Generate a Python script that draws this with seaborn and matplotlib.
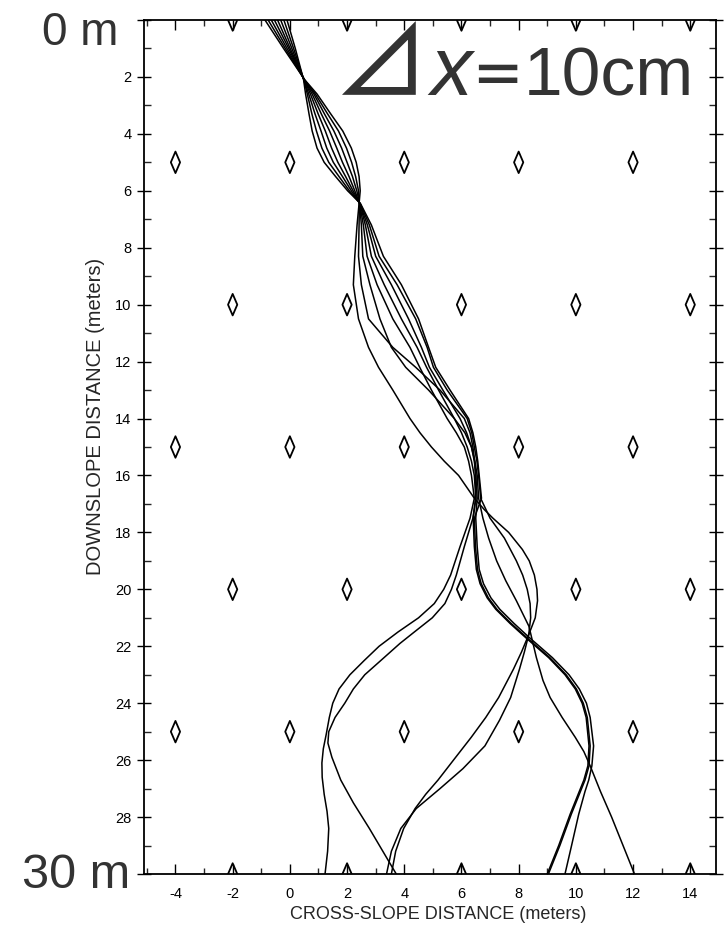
import matplotlib
matplotlib.use("Agg")
import matplotlib.pyplot as plt
import numpy as np
import pandas as pd
import seaborn as sns
from matplotlib.path import Path
from matplotlib.ticker import MultipleLocator, FixedLocator

# ---------------- data (metres) ----------------
# shared downslope stations for the upper part of all eight trajectories
Y_UPPER = [0.0, 1.0, 2.1, 2.6, 3.3, 3.9, 4.5, 5.0, 5.5, 6.0, 6.45, 7.2, 8.3, 9.3,
           10.5, 11.5, 12.2, 13.0, 14.0, 14.5, 15.0, 15.5, 16.0, 16.8]
X_UPPER_1 = [-0.87, -0.22, 0.52, 0.95, 1.43, 1.85, 2.15, 2.32, 2.42, 2.46, 2.42, 2.35, 2.27, 2.22,
             2.40, 2.75, 3.10, 3.60, 4.20, 4.55, 4.95, 5.40, 5.90, 6.45]
X_UPPER_2 = [-0.76, -0.16, 0.51, 0.89, 1.32, 1.70, 1.98, 2.16, 2.30, 2.40, 2.43, 2.42, 2.40, 2.50,
             2.75, 3.60, 4.40, 5.25, 6.10, 6.30, 6.40, 6.46, 6.50, 6.50]
X_UPPER_3 = [-0.65, -0.10, 0.51, 0.84, 1.21, 1.54, 1.81, 2.00, 2.19, 2.34, 2.44, 2.50, 2.55, 2.80,
             3.15, 3.55, 4.05, 4.85, 5.75, 6.12, 6.35, 6.45, 6.50, 6.55]
X_UPPER_4 = [-0.54, -0.04, 0.50, 0.78, 1.10, 1.39, 1.64, 1.84, 2.07, 2.27, 2.44, 2.57, 2.70, 3.05,
             3.60, 4.20, 4.54, 4.95, 5.50, 5.82, 6.10, 6.25, 6.35, 6.45]
X_UPPER_5 = [-0.43, 0.01, 0.50, 0.72, 0.99, 1.24, 1.46, 1.68, 1.95, 2.21, 2.45, 2.64, 2.85, 3.30,
             3.90, 4.45, 4.78, 5.20, 5.75, 6.00, 6.20, 6.35, 6.45, 6.50]
X_UPPER_6 = [-0.32, 0.07, 0.49, 0.66, 0.88, 1.09, 1.29, 1.52, 1.84, 2.15, 2.45, 2.71, 3.00, 3.55,
             4.15, 4.60, 4.88, 5.35, 5.95, 6.18, 6.35, 6.47, 6.55, 6.60]
X_UPPER_7 = [-0.21, 0.13, 0.49, 0.61, 0.77, 0.93, 1.12, 1.36, 1.72, 2.08, 2.46, 2.78, 3.12, 3.75,
             4.40, 4.80, 5.02, 5.50, 6.20, 6.36, 6.45, 6.54, 6.60, 6.67]
X_UPPER_8 = [-0.10, 0.19, 0.48, 0.55, 0.67, 0.78, 0.95, 1.20, 1.60, 2.02, 2.47, 2.85, 3.27, 3.90,
             4.50, 4.85, 5.10, 5.60, 6.25, 6.40, 6.50, 6.57, 6.62, 6.70]

# lower part of each trajectory (own stations)
Y_LOWER_1 = [17.2, 17.5, 18.0, 18.6, 19.0, 19.5, 20.0, 20.4, 21.0, 21.6, 22.2, 22.8, 23.8, 24.5,
             25.2, 26.0, 26.7, 27.2, 27.7, 28.4, 29.2, 30.0]
X_LOWER_1 = [6.80, 7.10, 7.65, 8.13, 8.37, 8.55, 8.64, 8.66, 8.58, 8.35, 8.10, 7.82, 7.30, 6.85,
             6.34, 5.72, 5.18, 4.75, 4.38, 3.98, 3.70, 3.55]

Y_LOWER_2 = [17.5, 18.5, 19.3, 19.8, 20.3, 20.7, 21.2, 21.7, 22.4, 23.0, 23.5, 24.0, 24.5, 25.5,
             26.2, 26.7, 27.1, 27.9, 29.0, 30.0]
X_LOWER_2 = [6.41, 6.45, 6.52, 6.65, 6.90, 7.20, 7.70, 8.25, 9.05, 9.62, 9.98, 10.22, 10.36, 10.46,
             10.42, 10.28, 10.12, 9.80, 9.40, 9.00]

Y_LOWER_3 = [17.5, 18.5, 19.3, 19.8, 20.3, 20.7, 21.2, 21.7, 22.4, 23.0, 23.5, 24.0, 24.5, 25.5,
             26.2, 26.7, 27.1, 27.9, 29.0, 30.0]
X_LOWER_3 = [6.50, 6.55, 6.62, 6.77, 7.03, 7.34, 7.84, 8.38, 9.18, 9.76, 10.12, 10.37, 10.50, 10.62,
             10.56, 10.45, 10.32, 10.10, 9.85, 9.62]

Y_LOWER_4 = [17.5, 18.5, 19.5, 20.0, 20.5, 21.0, 21.5, 22.0, 22.5, 23.0, 23.5, 24.0, 24.5, 25.1,
             25.6, 26.1, 26.6, 27.2, 27.8, 28.4, 29.2, 30.0]
X_LOWER_4 = [6.30, 5.95, 5.62, 5.38, 5.05, 4.50, 3.78, 3.12, 2.60, 2.10, 1.72, 1.50, 1.38, 1.27,
             1.17, 1.12, 1.13, 1.20, 1.30, 1.36, 1.32, 1.23]

Y_LOWER_5 = [17.5, 18.5, 19.5, 20.0, 20.5, 21.0, 21.5, 21.9, 22.5, 23.0, 23.5, 24.0, 24.5, 25.0,
             25.4, 25.9, 26.7, 27.5, 28.4, 29.2, 30.0]
X_LOWER_5 = [6.40, 6.10, 5.82, 5.65, 5.42, 4.98, 4.35, 3.85, 3.18, 2.62, 2.22, 1.92, 1.58, 1.36,
             1.33, 1.47, 1.78, 2.22, 2.78, 3.25, 3.72]

Y_LOWER_6 = [17.5, 18.2, 19.0, 19.7, 20.4, 21.3, 22.4, 23.2, 23.8, 24.5, 25.2, 25.7, 26.2, 27.1,
             28.0, 29.0, 30.0]
X_LOWER_6 = [6.75, 6.95, 7.23, 7.55, 7.92, 8.36, 8.62, 8.85, 9.10, 9.52, 9.98, 10.28, 10.50, 10.86,
             11.25, 11.65, 12.05]

Y_LOWER_7 = [17.5, 18.2, 19.0, 19.5, 20.0, 20.5, 21.0, 21.6, 22.2, 22.8, 23.8, 24.6, 25.5, 26.3,
             27.0, 27.7, 28.4, 29.2, 30.0]
X_LOWER_7 = [7.00, 7.50, 7.92, 8.14, 8.30, 8.40, 8.42, 8.35, 8.20, 8.03, 7.72, 7.33, 6.82, 6.05,
             5.25, 4.42, 3.88, 3.55, 3.38]

Y_LOWER_8 = [17.5, 18.5, 19.3, 19.8, 20.3, 20.7, 21.2, 21.7, 22.4, 23.0, 23.5, 24.0, 24.5, 25.5,
             26.2, 26.7, 27.1, 27.9, 29.0, 30.0]
X_LOWER_8 = [6.45, 6.49, 6.56, 6.69, 6.94, 7.24, 7.74, 8.29, 9.09, 9.66, 10.02, 10.26, 10.40, 10.50,
             10.46, 10.32, 10.16, 9.84, 9.44, 9.04]

# bump (diamond) grid
DIAMOND_ROWS_A = [0, 10, 20, 30]
DIAMOND_X_A = [-2, 2, 6, 10, 14]
DIAMOND_ROWS_B = [5, 15, 25]
DIAMOND_X_B = [-4, 0, 4, 8, 12]

X_TICKS = [-4, -2, 0, 2, 4, 6, 8, 10, 12, 14]
X_TICK_LABELS = ["-4", "-2", "0", "2", "4", "6", "8", "10", "12", "14"]
Y_TICKS = [0, 2, 4, 6, 8, 10, 12, 14, 16, 18, 20, 22, 24, 26, 28, 30]
Y_TICK_LABELS = ["", "2", "4", "6", "8", "10", "12", "14", "16", "18", "20",
                 "22", "24", "26", "28", ""]

X_LABEL = "CROSS-SLOPE DISTANCE (meters)"
Y_LABEL = "DOWNSLOPE DISTANCE (meters)"

# ---------------- assemble tables ----------------
uppers = [X_UPPER_1, X_UPPER_2, X_UPPER_3, X_UPPER_4,
          X_UPPER_5, X_UPPER_6, X_UPPER_7, X_UPPER_8]
lowers = [(Y_LOWER_1, X_LOWER_1), (Y_LOWER_2, X_LOWER_2), (Y_LOWER_3, X_LOWER_3),
          (Y_LOWER_4, X_LOWER_4), (Y_LOWER_5, X_LOWER_5), (Y_LOWER_6, X_LOWER_6),
          (Y_LOWER_7, X_LOWER_7), (Y_LOWER_8, X_LOWER_8)]
rows = []
for i, (xu, (yl, xl)) in enumerate(zip(uppers, lowers)):
    ys = list(Y_UPPER) + list(yl)
    xs = list(xu) + list(xl)
    for j, (xv, yv) in enumerate(zip(xs, ys)):
        rows.append({"traj": i, "order": j, "x": xv, "y": yv})
traj = pd.DataFrame(rows)

drows = []
for r in DIAMOND_ROWS_A:
    for xv in DIAMOND_X_A:
        drows.append({"x": xv, "y": r})
for r in DIAMOND_ROWS_B:
    for xv in DIAMOND_X_B:
        drows.append({"x": xv, "y": r})
diam = pd.DataFrame(drows)

# ---------------- figure ----------------
sns.set_style("ticks")
plt.rcParams["font.family"] = ["Liberation Sans", "DejaVu Sans"]

fig = plt.figure(figsize=(7.28, 9.32), dpi=100)
ax = fig.add_axes([144 / 728, 58 / 932, 572 / 728, 854 / 932])

sns.lineplot(data=traj, x="x", y="y", units="traj", estimator=None, sort=False,
             color="black", linewidth=1.1, ax=ax, legend=False)

diamond = Path([(0, 1), (0.43, 0), (0, -1), (-0.43, 0), (0, 1)],
               [Path.MOVETO, Path.LINETO, Path.LINETO, Path.LINETO, Path.CLOSEPOLY])
sns.scatterplot(data=diam, x="x", y="y", marker=diamond, s=240, ax=ax, legend=False)
pts = ax.collections[-1]
pts.set_facecolor("none")
pts.set_edgecolor("black")
pts.set_linewidth(1.3)

ax.set_xlim(-5.1, 14.9)
ax.set_ylim(30, 0)

ax.xaxis.set_major_locator(FixedLocator(X_TICKS))
ax.set_xticklabels(X_TICK_LABELS)
ax.xaxis.set_minor_locator(MultipleLocator(1))
ax.yaxis.set_major_locator(FixedLocator(Y_TICKS))
ax.set_yticklabels(Y_TICK_LABELS)
ax.yaxis.set_minor_locator(MultipleLocator(1))

ax.tick_params(axis="x", which="major", direction="in", length=7, width=1.0,
               top=True, bottom=True, labelsize=10.5, pad=9, colors="black")
ax.tick_params(axis="x", which="minor", direction="in", length=4.5, width=1.0,
               top=True, bottom=True)
ax.tick_params(axis="y", which="major", direction="inout", length=10, width=1.0,
               left=True, right=True, labelsize=10.5, pad=4, colors="black")
ax.tick_params(axis="y", which="minor", direction="in", length=5, width=1.0,
               left=True, right=True)
for s in ax.spines.values():
    s.set_linewidth(1.3)
    s.set_color("black")
    s.set_visible(True)

ax.set_xlabel(X_LABEL, fontsize=13)
ax.set_ylabel(Y_LABEL, fontsize=14.5)
ax.xaxis.set_label_coords(0.515, -0.038)
ax.yaxis.set_label_coords(-0.068, 0.536)

# overlay annotations
gray = "#333333"
fig.text(42 / 728, 1 - 45 / 932, "0 m", fontsize=33, color=gray,
         ha="left", va="baseline")
fig.text(22 / 728, 1 - 888 / 932, "30 m", fontsize=35, color=gray,
         ha="left", va="baseline")
fig.text(334 / 728, 1 - 96 / 932, "\u22bf", fontsize=68, color=gray, ha="left",
         va="baseline", weight="medium", family=["Noto Sans CJK JP", "DejaVu Sans"])
fig.text(430 / 728, 1 - 95 / 932, "x", fontsize=60, color=gray, ha="left",
         va="baseline", style="italic")
fig.text(470 / 728, 1 - 95 / 932, "\uff1d", fontsize=39, color=gray, ha="left",
         va="baseline", weight="bold", family=["Noto Sans CJK JP", "DejaVu Sans"])
fig.text(524 / 728, 1 - 95 / 932, "10cm", fontsize=50, color=gray, ha="left",
         va="baseline")

fig.savefig("out.png", dpi=100, facecolor="white")
